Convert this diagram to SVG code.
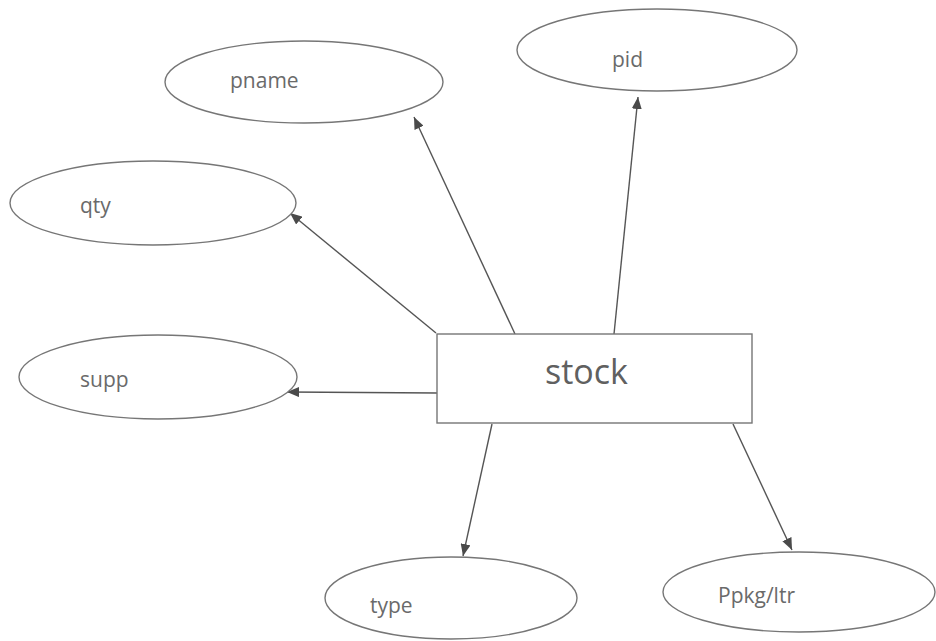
<svg xmlns="http://www.w3.org/2000/svg" width="936" height="641" viewBox="0 0 936 641">
<style>
.shape{fill:#fff;stroke:#767676;stroke-width:1.4}
.lbl{font-family:"Open Sans","Liberation Sans",sans-serif;font-size:21px;fill:#6a6a6a}
.big{font-family:"Open Sans","Liberation Sans",sans-serif;font-size:34px;fill:#606060}
.conn{stroke:#555;stroke-width:1.4;fill:none;marker-end:url(#ah)}
</style>
<defs>
<marker id="ah" viewBox="0 0 12 10" refX="12" refY="5" markerWidth="12" markerHeight="10" markerUnits="userSpaceOnUse" orient="auto">
<path d="M0,0 L12,5 L0,10 Z" fill="#4a4a4a"/>
</marker>
</defs>
<rect width="936" height="641" fill="#fff"/>
<g id="connectors">
<line class="conn" x1="515" y1="334" x2="414" y2="117"/>
<line class="conn" x1="436" y1="333" x2="290" y2="213"/>
<line class="conn" x1="614" y1="334" x2="638" y2="97"/>
<line class="conn" x1="437" y1="393" x2="287" y2="392"/>
<line class="conn" x1="492" y1="424" x2="463" y2="556"/>
<line class="conn" x1="733" y1="424" x2="792" y2="550"/>
</g>
<g id="stock">
<rect class="shape" x="437" y="334" width="315" height="89"/>
<text class="big" x="545" y="384">stock</text>
</g>
<g id="pid">
<ellipse class="shape" cx="657" cy="50" rx="140" ry="41"/>
<text class="lbl" x="612" y="67">pid</text>
</g>
<g id="pname">
<ellipse class="shape" cx="304" cy="82" rx="139" ry="41"/>
<text class="lbl" x="230" y="88">pname</text>
</g>
<g id="qty">
<ellipse class="shape" cx="153" cy="203" rx="143" ry="42"/>
<text class="lbl" x="80" y="213">qty</text>
</g>
<g id="supp">
<ellipse class="shape" cx="158" cy="377" rx="139" ry="42"/>
<text class="lbl" x="80" y="387">supp</text>
</g>
<g id="type">
<ellipse class="shape" cx="451" cy="598" rx="126" ry="41"/>
<text class="lbl" x="370" y="613">type</text>
</g>
<g id="ppkg">
<ellipse class="shape" cx="799" cy="592" rx="136" ry="40"/>
<text class="lbl" x="718" y="603">Ppkg/ltr</text>
</g>
</svg>
